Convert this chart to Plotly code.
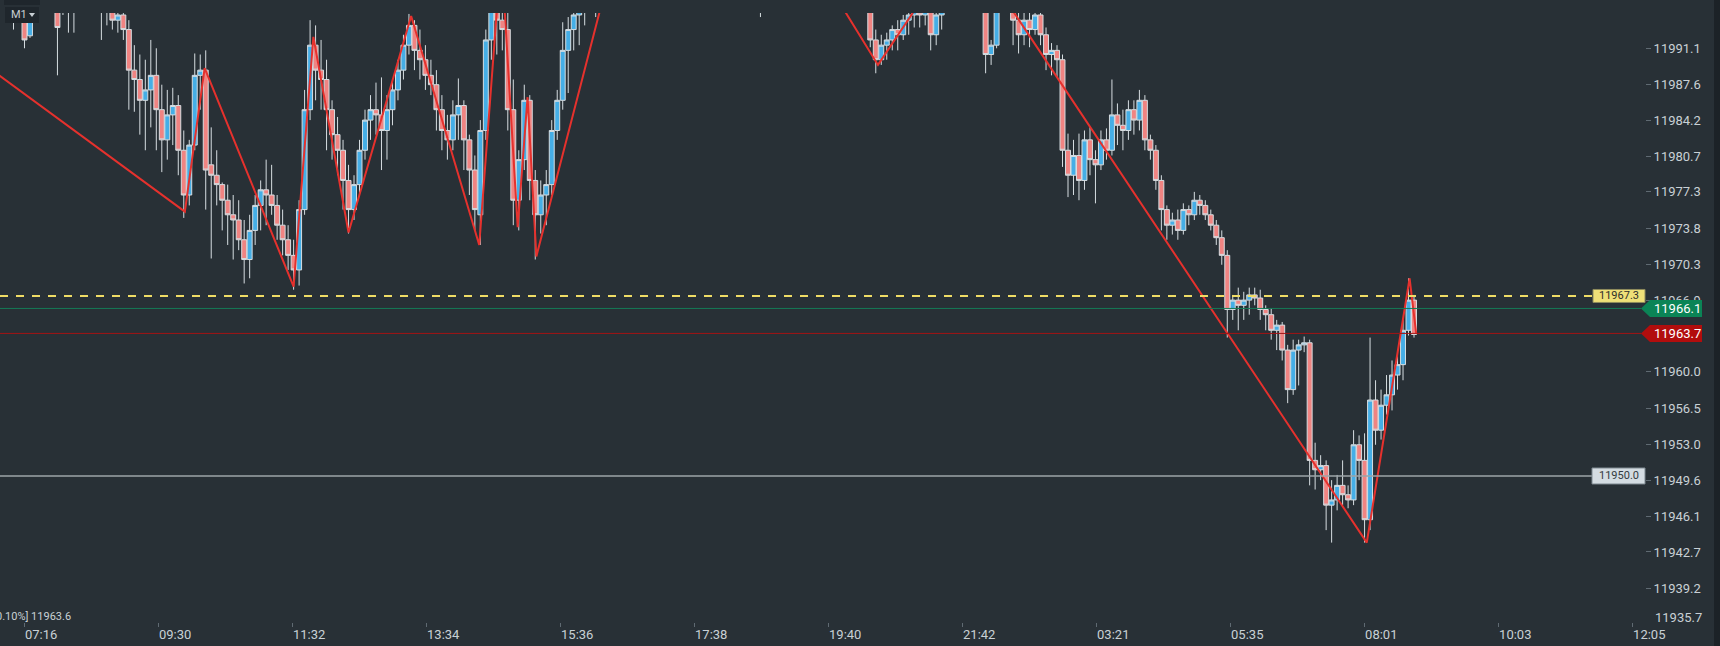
import plotly.graph_objects as go

# ---------------- data ----------------
tick_labels = ["07:16", "09:30", "11:32", "13:34", "15:36", "17:38", "19:40",
               "21:42", "03:21", "05:35", "08:01", "10:03", "12:05"]
tick_bars = [0, 122, 244, 366, 488, 610, 732, 854, 976, 1098, 1220, 1342, 1464]

price_ticks = [11939.2, 11942.7, 11946.1, 11949.6, 11953.0, 11956.5, 11960.0,
               11966.9, 11970.3, 11973.8, 11977.3, 11980.7, 11984.2, 11987.6, 11991.1]
bottom_tick = 11935.7

opens = [
    11996.2, 11996.7, 11996.2, 11995.3, 11993.8, 11992.3, 11995.7, 11996.7, 11996.2, 11995.7,
    11996.2, 11994.8, 11996.2, 11995.7, 11996.2, 11996.7, 11996.2, 11995.7, 11996.0, 11995.3,
    11994.8, 11993.8, 11994.3, 11992.9, 11989.0, 11988.1, 11986.1, 11987.1, 11988.5, 11985.2,
    11982.3, 11984.7, 11985.6, 11981.3, 11977.0, 11981.8, 11988.5, 11989.0, 11979.9, 11978.9,
    11978.0, 11976.5, 11975.1, 11974.6, 11972.7, 11970.8, 11973.6, 11976.0, 11977.5, 11977.0,
    11976.0, 11974.1, 11972.7, 11971.2, 11969.8, 11975.6, 11985.2, 11991.4, 11989.0, 11988.1,
    11985.2, 11982.8, 11981.3, 11978.4, 11975.6, 11978.0, 11981.3, 11984.2, 11985.2, 11984.7,
    11983.2, 11985.2, 11987.1, 11989.0, 11991.4, 11993.3, 11990.9, 11990.0, 11988.5, 11987.6,
    11985.2, 11983.2, 11982.3, 11984.7, 11985.6, 11982.3, 11979.4, 11975.1, 11983.2, 11991.9,
    11994.8, 11993.8, 11992.9, 11985.2, 11976.5, 11980.4, 11986.1, 11978.4, 11975.1, 11977.0,
    11978.0, 11983.2, 11986.1, 11990.9, 11992.9, 11994.3, 11994.8, 11995.7, 11996.7, 11997.2,
    11998.3, 11999.6, 12001.2, 12002.5, 12003.9, 12004.8, 12003.6, 12002.9, 12002.6, 12001.9,
    12001.4, 12001.8, 12001.1, 12000.6, 12000.9, 12000.3, 11999.9, 11999.5, 11999.8, 11999.2,
    11998.8, 11998.4, 11998.7, 11999.4, 11999.1, 11999.6, 12000.2, 11999.5, 11998.8, 11999.2,
    12000.1, 12001.0, 12001.8, 12002.5, 12002.9, 12002.4, 12001.8, 12001.2, 12000.6, 12000.0,
    11999.4, 11998.9, 11998.3, 11997.8, 11997.3, 11996.8, 11996.4, 11996.0, 11995.3, 11991.9,
    11990.0, 11991.4, 11991.9, 11992.9, 11992.4, 11993.8, 11994.3, 11994.8, 11994.3, 11995.3,
    11992.4, 11994.3, 11996.2, 11997.1, 11998.4, 11999.2, 11998.6, 11997.6, 11996.8, 11995.3,
    11990.5, 11991.4, 11995.7, 11996.9, 11995.7, 11993.8, 11992.4, 11993.8, 11992.9, 11994.3,
    11992.4, 11990.5, 11990.9, 11990.0, 11981.3, 11978.9, 11980.8, 11978.4, 11982.3, 11980.4,
    11979.9, 11982.3, 11981.3, 11984.7, 11983.7, 11983.2, 11985.2, 11984.2, 11986.1, 11982.3,
    11981.3, 11978.4, 11975.6, 11974.1, 11974.6, 11973.6, 11975.6, 11975.1, 11976.5, 11976.0,
    11975.1, 11974.1, 11972.9, 11971.2, 11966.0, 11966.9, 11966.4, 11966.9, 11967.4, 11967.1,
    11966.0, 11965.5, 11964.0, 11964.5, 11962.1, 11958.3, 11962.1, 11962.6, 11962.8, 11951.5,
    11950.6, 11951.0, 11947.2, 11947.7, 11949.1, 11948.2, 11947.7, 11953.0, 11951.5, 11945.8,
    11957.3, 11954.4, 11956.8, 11957.8, 11959.7, 11960.7, 11964.0, 11966.9,
]
highs = [
    11997.7, 11998.1, 11997.2, 11996.7, 11995.3, 11996.2, 11997.7, 11998.1, 11997.7, 11997.2,
    11996.7, 11996.7, 11997.2, 11996.7, 11997.7, 11997.7, 11997.2, 11996.7, 11996.7, 11996.2,
    11995.7, 11995.3, 11995.3, 11993.8, 11991.4, 11990.5, 11990.0, 11991.9, 11991.1, 11987.6,
    11987.1, 11987.3, 11986.6, 11983.2, 11982.3, 11990.6, 11990.5, 11990.9, 11983.5, 11981.3,
    11978.2, 11978.0, 11977.0, 11976.5, 11974.6, 11975.1, 11977.0, 11978.4, 11980.4, 11979.9,
    11977.0, 11975.6, 11974.1, 11972.7, 11976.5, 11987.1, 11993.8, 11993.3, 11991.9, 11990.0,
    11986.1, 11984.5, 11982.3, 11979.9, 11978.9, 11982.3, 11985.2, 11986.6, 11987.8, 11988.3,
    11986.6, 11988.1, 11990.0, 11992.4, 11994.4, 11993.8, 11992.9, 11991.4, 11990.0, 11989.0,
    11986.6, 11984.7, 11986.1, 11988.2, 11986.1, 11982.8, 11980.8, 11984.2, 11992.9, 11996.7,
    11997.7, 11996.2, 11994.8, 11988.1, 11981.3, 11987.6, 11986.6, 11979.4, 11978.4, 11979.4,
    11984.2, 11987.1, 11993.6, 11994.1, 11995.7, 11996.2, 11996.7, 11997.2, 11997.7, 11998.6,
    12000.0, 12001.6, 12003.0, 12004.4, 12005.8, 12005.6, 12004.3, 12003.8, 12003.2, 12002.8,
    12002.5, 12002.6, 12001.9, 12001.5, 12001.7, 12001.0, 12000.8, 12000.4, 12000.5, 11999.9,
    11999.6, 11999.3, 11999.8, 12000.4, 12000.1, 12000.7, 12001.0, 12000.3, 11999.6, 12000.5,
    12001.4, 12002.2, 12003.0, 12003.4, 12003.6, 12003.1, 12002.5, 12001.9, 12001.3, 12000.8,
    12000.2, 11999.7, 11999.1, 11998.6, 11998.0, 11997.5, 11997.0, 11996.8, 11996.7, 11992.9,
    11992.4, 11992.6, 11993.3, 11993.8, 11994.3, 11995.3, 11995.7, 11996.2, 11995.7, 11996.2,
    11994.8, 11996.7, 11997.6, 11998.9, 11999.8, 12000.1, 11999.2, 11998.3, 11997.4, 11996.2,
    11991.9, 11996.7, 11997.3, 11997.8, 11996.7, 11995.3, 11994.8, 11995.3, 11995.3, 11994.8,
    11993.1, 11991.6, 11991.4, 11990.5, 11982.9, 11982.3, 11982.9, 11983.2, 11983.5, 11981.3,
    11983.2, 11983.4, 11988.1, 11985.8, 11985.2, 11986.1, 11986.1, 11987.1, 11986.6, 11982.8,
    11981.8, 11978.9, 11976.0, 11975.3, 11975.6, 11976.2, 11976.0, 11977.3, 11977.0, 11976.5,
    11975.6, 11974.6, 11973.6, 11971.7, 11967.4, 11968.1, 11967.7, 11968.1, 11968.1, 11967.9,
    11966.4, 11966.1, 11965.0, 11964.8, 11962.6, 11963.1, 11963.1, 11963.4, 11963.1, 11953.2,
    11952.0, 11951.5, 11949.6, 11950.1, 11951.5, 11949.1, 11954.4, 11953.9, 11954.1, 11963.3,
    11959.2, 11958.3, 11959.7, 11961.1, 11961.6, 11965.0, 11969.0, 11967.4,
]
lows = [
    11995.7, 11995.9, 11992.9, 11994.0, 11991.1, 11992.1, 11995.0, 11995.3, 11995.0, 11994.8,
    11988.5, 11994.3, 11992.6, 11992.6, 11995.3, 11995.7, 11995.3, 11995.0, 11991.9, 11993.3,
    11992.9, 11992.6, 11991.9, 11985.2, 11985.0, 11982.8, 11981.3, 11983.5, 11981.3, 11979.2,
    11980.4, 11981.8, 11978.9, 11974.8, 11976.0, 11981.3, 11985.2, 11975.6, 11970.9, 11976.0,
    11973.6, 11972.2, 11970.8, 11971.7, 11968.5, 11969.0, 11972.2, 11973.6, 11974.1, 11975.1,
    11972.7, 11971.2, 11969.8, 11967.9, 11968.3, 11975.1, 11984.2, 11986.1, 11985.2, 11981.3,
    11980.4, 11978.9, 11975.6, 11973.3, 11974.6, 11977.0, 11980.4, 11982.3, 11982.8, 11979.4,
    11980.4, 11983.7, 11986.1, 11988.1, 11990.5, 11989.0, 11988.1, 11987.1, 11986.6, 11983.2,
    11981.3, 11980.4, 11981.3, 11982.3, 11979.4, 11977.0, 11973.6, 11972.2, 11982.3, 11990.0,
    11990.5, 11990.9, 11983.2, 11974.1, 11973.6, 11979.4, 11976.5, 11970.8, 11973.3, 11974.1,
    11977.0, 11982.3, 11985.2, 11986.8, 11990.9, 11991.4, 11993.3, 11995.3, 11994.1, 11996.8,
    11997.9, 11999.2, 12000.8, 12002.0, 12003.2, 12003.0, 12002.4, 12001.9, 12001.5, 12001.0,
    12000.6, 12000.7, 12000.2, 11999.8, 12000.0, 11999.4, 11999.0, 11998.7, 11998.9, 11998.4,
    11997.9, 11997.6, 11998.0, 11998.6, 11998.2, 11998.8, 11999.1, 11998.0, 11994.1, 11998.5,
    11999.6, 12000.4, 12001.2, 12001.8, 12002.0, 12001.5, 12000.9, 12000.2, 11999.7, 11999.1,
    11998.6, 11998.0, 11997.5, 11997.0, 11996.5, 11996.0, 11995.6, 11995.5, 11991.2, 11988.7,
    11989.5, 11990.0, 11990.9, 11990.9, 11991.9, 11992.4, 11993.1, 11993.1, 11993.3, 11990.9,
    11991.4, 11992.9, 11995.8, 11996.6, 11997.8, 11998.1, 11997.2, 11996.4, 11995.6, 11988.7,
    11989.5, 11991.1, 11995.5, 11995.6, 11991.4, 11990.6, 11991.4, 11991.2, 11992.4, 11991.4,
    11989.0, 11988.5, 11988.3, 11979.7, 11976.8, 11977.0, 11976.5, 11977.5, 11978.9, 11976.2,
    11979.4, 11980.4, 11980.8, 11981.8, 11981.3, 11982.3, 11982.8, 11983.2, 11981.3, 11980.4,
    11977.5, 11973.6, 11972.7, 11973.2, 11972.7, 11973.2, 11974.1, 11974.6, 11975.1, 11974.6,
    11973.6, 11972.2, 11970.3, 11963.3, 11965.0, 11964.0, 11965.0, 11965.5, 11966.4, 11965.0,
    11964.0, 11963.1, 11962.1, 11961.1, 11957.0, 11957.8, 11958.7, 11961.9, 11949.1, 11948.7,
    11949.6, 11944.8, 11943.6, 11946.7, 11947.2, 11946.9, 11947.2, 11949.6, 11943.6, 11944.8,
    11953.0, 11953.5, 11955.9, 11956.3, 11958.3, 11959.2, 11963.5, 11963.3,
]
closes = [
    11996.7, 11996.2, 11995.3, 11995.7, 11991.9, 11995.3, 11996.7, 11996.2, 11995.7, 11996.2,
    11993.1, 11996.2, 11995.7, 11996.2, 11996.7, 11996.2, 11995.7, 11996.0, 11995.3, 11994.8,
    11993.8, 11994.3, 11992.9, 11989.0, 11988.1, 11986.1, 11987.1, 11988.5, 11985.2, 11982.3,
    11984.7, 11985.6, 11981.3, 11977.0, 11981.8, 11988.5, 11989.0, 11979.4, 11978.9, 11978.0,
    11976.5, 11975.1, 11974.6, 11972.7, 11970.8, 11973.6, 11976.0, 11977.5, 11977.0, 11976.0,
    11974.1, 11972.7, 11971.2, 11969.8, 11975.6, 11985.2, 11991.4, 11989.0, 11988.1, 11985.2,
    11982.8, 11981.3, 11978.4, 11975.6, 11978.0, 11981.3, 11984.2, 11985.2, 11984.7, 11983.2,
    11985.2, 11987.1, 11989.0, 11991.4, 11993.3, 11990.9, 11990.0, 11988.5, 11987.6, 11985.2,
    11983.2, 11982.3, 11984.7, 11985.6, 11982.3, 11979.4, 11975.6, 11983.2, 11991.9, 11994.8,
    11993.8, 11992.9, 11985.2, 11976.5, 11980.4, 11986.1, 11978.4, 11975.1, 11977.0, 11978.0,
    11983.2, 11986.1, 11990.9, 11992.9, 11994.3, 11994.8, 11995.7, 11996.7, 11997.2, 11998.3,
    11999.6, 12001.2, 12002.5, 12003.9, 12004.8, 12003.6, 12002.9, 12002.6, 12001.9, 12001.4,
    12001.8, 12001.1, 12000.6, 12000.9, 12000.3, 11999.9, 11999.5, 11999.8, 11999.2, 11998.8,
    11998.4, 11998.7, 11999.4, 11999.1, 11999.6, 12000.2, 11999.5, 11998.8, 11999.2, 12000.1,
    12001.0, 12001.8, 12002.5, 12002.9, 12002.4, 12001.8, 12001.2, 12000.6, 12000.0, 11999.4,
    11998.9, 11998.3, 11997.8, 11997.3, 11996.8, 11996.4, 11996.0, 11995.9, 11991.9, 11990.0,
    11991.4, 11991.9, 11992.9, 11992.4, 11993.8, 11994.3, 11994.8, 11994.3, 11995.3, 11992.4,
    11994.3, 11996.2, 11997.1, 11998.4, 11999.2, 11998.6, 11997.6, 11996.8, 11996.0, 11990.5,
    11991.4, 11995.7, 11996.9, 11996.0, 11993.8, 11992.4, 11993.8, 11992.9, 11994.3, 11992.4,
    11990.5, 11990.9, 11990.0, 11981.3, 11978.9, 11980.8, 11978.4, 11982.3, 11980.4, 11979.9,
    11982.3, 11981.3, 11984.7, 11983.7, 11983.2, 11985.2, 11984.2, 11986.1, 11982.3, 11981.3,
    11978.4, 11975.6, 11974.1, 11974.6, 11973.6, 11975.6, 11975.1, 11976.5, 11976.0, 11975.1,
    11974.1, 11972.9, 11971.2, 11966.0, 11966.9, 11966.4, 11966.9, 11967.4, 11967.1, 11966.0,
    11965.5, 11964.0, 11964.5, 11962.1, 11958.3, 11962.1, 11962.6, 11962.8, 11951.5, 11950.6,
    11951.0, 11947.2, 11947.7, 11949.1, 11948.2, 11947.7, 11953.0, 11951.5, 11945.8, 11957.3,
    11954.4, 11956.8, 11957.8, 11959.7, 11960.7, 11964.0, 11966.9, 11963.6,
]
# each candle covers 5 one-minute bars; bar numbers relative to the 07:16 bar
bar_index = list(range(-20, -20 + 5 * len(closes), 5))

zigzag_bars = [-80, 146, 164, 245, 263, 295, 352, 414, 434, 449, 458, 466,
               551, 633, 697, 777, 855, 1222, 1261, 1267]
zigzag_prices = [11992.9, 11975.4, 11989.2, 11968.2, 11992.2, 11973.4, 11994.2,
                 11972.2, 12000.3, 11973.9, 11986.4, 11971.1, 12005.8, 11998.6,
                 12003.2, 11989.5, 12001.8, 11943.6, 11969.0, 11963.7]

level_yellow = 11967.3
level_green = 11966.1
level_red = 11963.7
level_grey = 11950.0
last_price_text = "[-0.10%] 11963.6"

# ---------------- style ----------------
BG = "#283036"
UP = "#45aee6"
DOWN = "#f08482"
WICK = "#d6dde1"
TXT = "#c9d0d5"
FONT = "Roboto"

PLOT_W = 1645.0   # plot area width in px (x from 0)
PLOT_TOP, PLOT_BOTTOM = 13, 622
PLOT_H = PLOT_BOTTOM - PLOT_TOP
Y_RANGE = [11935.97, 11994.49]
X_RANGE = [-22.3, 1475.3]


def px(xpix):
    return xpix / PLOT_W


def py(ypix):
    return (PLOT_BOTTOM - ypix) / PLOT_H


def dy(pix):
    return pix * (Y_RANGE[1] - Y_RANGE[0]) / PLOT_H


fig = go.Figure()
fig.add_trace(go.Candlestick(
    x=bar_index, open=opens, high=highs, low=lows, close=closes,
    increasing=dict(line=dict(color=WICK, width=1), fillcolor=UP),
    decreasing=dict(line=dict(color=WICK, width=1), fillcolor=DOWN),
    whiskerwidth=0, hoverinfo="skip", showlegend=False,
))
fig.add_trace(go.Scatter(
    x=zigzag_bars, y=zigzag_prices, mode="lines",
    line=dict(color="#e5312d", width=2), hoverinfo="skip", showlegend=False,
))

shapes = []
# horizontal levels
shapes.append(dict(type="line", xref="paper", yref="y", x0=0, x1=px(1593),
                   y0=level_yellow, y1=level_yellow,
                   line=dict(color="#efdc66", width=2, dash="8px,8px")))
shapes.append(dict(type="line", xref="paper", yref="y", x0=0, x1=px(1641),
                   y0=level_green, y1=level_green,
                   line=dict(color="#157a57", width=1)))
shapes.append(dict(type="line", xref="paper", yref="y", x0=0, x1=px(1641),
                   y0=level_red, y1=level_red,
                   line=dict(color="#a31313", width=1)))
shapes.append(dict(type="line", xref="paper", yref="y", x0=0, x1=px(1592),
                   y0=level_grey, y1=level_grey,
                   line=dict(color="#9da4a9", width=1.5)))
# boxed labels
shapes.append(dict(type="rect", xref="paper", yref="y", x0=px(1593), x1=px(1645),
                   y0=level_yellow - dy(6.5), y1=level_yellow + dy(6.5),
                   fillcolor="#efe078", line=dict(color="#8e8a5c", width=1)))
shapes.append(dict(type="rect", xref="paper", yref="y", x0=px(1592), x1=px(1645),
                   y0=level_grey - dy(8), y1=level_grey + dy(8),
                   fillcolor="#d4dce2", line=dict(color="#7d8890", width=1)))


def tag_path(level):
    h = dy(8.5)
    return (f"M {px(1641)},{level} L {px(1650)},{level + h} L {px(1702)},{level + h} "
            f"L {px(1702)},{level - h} L {px(1650)},{level - h} Z")


shapes.append(dict(type="path", xref="paper", yref="y", path=tag_path(level_green),
                   fillcolor="#0b8456", line=dict(width=0)))
shapes.append(dict(type="path", xref="paper", yref="y", path=tag_path(level_red),
                   fillcolor="#b20d0d", line=dict(width=0)))
# right dark strip
shapes.append(dict(type="rect", xref="paper", yref="paper", x0=px(1714), x1=px(1722),
                   y0=py(650), y1=py(-4), fillcolor="#1c2227", line=dict(width=0)))
# timeframe widget (top-left)
shapes.append(dict(type="rect", xref="paper", yref="paper", x0=px(4), x1=px(40),
                   y0=py(5), y1=py(-2), fillcolor="#1f262c", line=dict(width=0)))
shapes.append(dict(type="rect", xref="paper", yref="paper", x0=px(5), x1=px(39),
                   y0=py(23), y1=py(7), fillcolor="#1f262c", line=dict(width=0)))
shapes.append(dict(type="path", xref="paper", yref="paper",
                   path=f"M {px(29)},{py(13)} L {px(35)},{py(13)} L {px(32)},{py(17)} Z",
                   fillcolor="#c8cfd4", line=dict(width=0)))


def note(x, y, text, size, color, xanchor="center", yref="y"):
    return dict(xref="paper", yref=yref, x=x, y=y, text=text, showarrow=False,
                xanchor=xanchor, yanchor="middle",
                font=dict(family=FONT, size=size, color=color))


annotations = [
    note(px(1619), level_yellow, f"{level_yellow:.1f}", 11, "#2e2e2a"),
    note(px(1618.5), level_grey, f"{level_grey:.1f}", 11, "#333a40"),
    note(px(1677), level_green, f"{level_green:.1f}", 13, "#ffffff"),
    note(px(1677), level_red, f"{level_red:.1f}", 13, "#ffffff"),
    note(px(1653), py(617), f"{bottom_tick:.1f}", 13, TXT, "left", "paper"),
    note(px(73), py(616), last_price_text, 11, TXT, "right", "paper"),
    note(px(9), py(15), "M1", 11, "#c8cfd4", "left", "paper"),
]

fig.update_layout(
    width=1720, height=646,
    margin=dict(l=0, r=1720 - int(PLOT_W), t=PLOT_TOP, b=646 - PLOT_BOTTOM, pad=0,
                autoexpand=False),
    paper_bgcolor=BG, plot_bgcolor=BG, showlegend=False,
    shapes=shapes, annotations=annotations,
    boxgap=0.1, boxgroupgap=0,
    xaxis=dict(range=X_RANGE, tickmode="array", tickvals=tick_bars, ticktext=tick_labels,
               ticks="outside", ticklen=4, tickwidth=1, tickcolor="#5f6a72",
               ticklabelposition="outside right",
               tickfont=dict(family=FONT, size=13, color=TXT),
               showgrid=False, zeroline=False, showline=False,
               rangeslider=dict(visible=False), fixedrange=True),
    yaxis=dict(side="right", range=Y_RANGE, tickmode="array", tickvals=price_ticks,
               tickformat=".1f", ticks="outside", ticklen=5, tickwidth=1,
               tickcolor="#5f6a72", tickfont=dict(family=FONT, size=13, color=TXT),
               showgrid=False, zeroline=False, showline=False, fixedrange=True),
    hovermode=False,
)

fig.write_html("out.html", include_plotlyjs=True,
               config=dict(displayModeBar=False, staticPlot=True),
               post_script="document.body.style.margin='0';document.body.style.overflow='hidden';")
